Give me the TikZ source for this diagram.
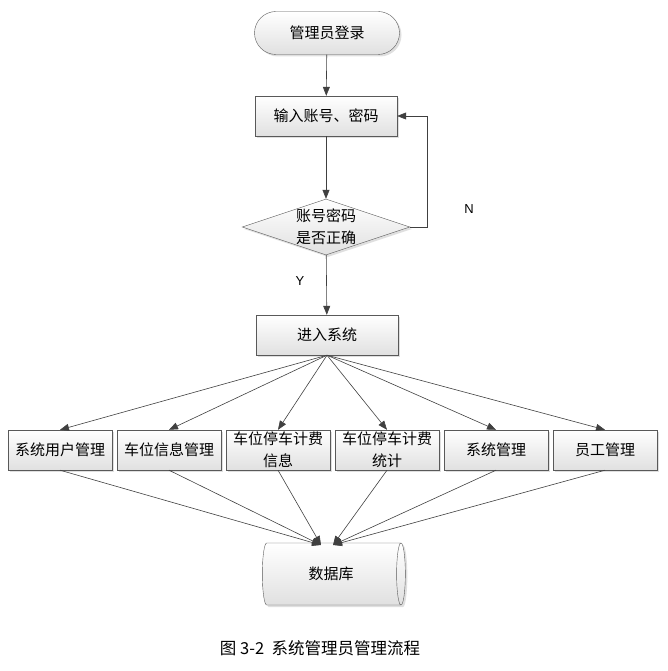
\documentclass[tikz,border=0pt]{standalone}
\usepackage{fontspec}
\setmainfont{Liberation Sans}
\newfontfamily\cjk{Noto Sans CJK SC}
\usetikzlibrary{positioning}
\usetikzlibrary{shapes.geometric}
\usetikzlibrary{shadows}
\usetikzlibrary{arrows.meta}

\tikzset{
	flowbox/.style={draw=black!65, top color=white, bottom color=black!12,
		drop shadow={shadow xshift=2pt, shadow yshift=-2pt, fill=black!25},
		inner sep=1pt, align=center, font=\cjk\fontsize{15}{22}\selectfont},
	stepbox/.style={flowbox, minimum width=142pt, minimum height=40pt},
	sidebox/.style={flowbox, minimum width=104pt, minimum height=40pt},
	startbox/.style={flowbox, minimum width=145pt, minimum height=43pt, rounded corners=21.5pt},
	checkbox/.style={flowbox, diamond, aspect=3, inner sep=0pt},
	storebox/.style={flowbox, cylinder, aspect=0.55, minimum width=62pt, minimum height=143pt},
	flow/.style={draw=black!75, line width=0.6pt, -{Triangle[width=7pt, length=9pt]}},
}

\begin{document}
\begin{tikzpicture}[x=1pt, y=-1pt]
	\useasboundingbox (0,0) rectangle (668,671);

	\node[startbox] (login) at (327,33) {管理员登录};
	\node[stepbox] (input) at (326,116) {输入账号、密码};
	\node[checkbox] (check) at (326,227) {账号密码\\是否正确};
	\node[stepbox] (enter) at (327,335) {进入系统};

	\node[sidebox] (m1) at (60,450) {系统用户管理};
	\node[sidebox] (m2) at (169,450) {车位信息管理};
	\node[sidebox] (m3) at (278,450) {车位停车计费\\信息};
	\node[sidebox] (m4) at (387,450) {车位停车计费\\统计};
	\node[sidebox] (m5) at (496,450) {系统管理};
	\node[sidebox] (m6) at (605,450) {员工管理};

	\node[storebox, shape border rotate=0] (db) at (331,574) {数据库};

	\node[font=\fontsize{13}{15}\selectfont] (no) at (469,209) {N};
	\node[font=\fontsize{13}{15}\selectfont] (yes) at (300,281) {Y};
	\node[font=\cjk\fontsize{16.5}{20}\selectfont] (title) at (320,648) {图 3-2 \ 系统管理员管理流程};

	\coordinate (loop) at (427,116);
	\coordinate (dbl) at (321,545);
	\coordinate (dbr) at (333,545);

	\path[flow] (login) -- (input);
	\path[flow] (input) -- (check);
	\path[flow] (check) -- (enter);
	\path[flow] (check.east) -| (loop) -- (input.east);

	\foreach \m in {m1,m2,m3,m4,m5,m6}
		\path[flow] (enter.south) -- (\m.north);
	\foreach \m in {m1,m2,m3}
		\path[flow] (\m.south) -- (dbl);
	\foreach \m in {m4,m5,m6}
		\path[flow] (\m.south) -- (dbr);
\end{tikzpicture}
\end{document}
